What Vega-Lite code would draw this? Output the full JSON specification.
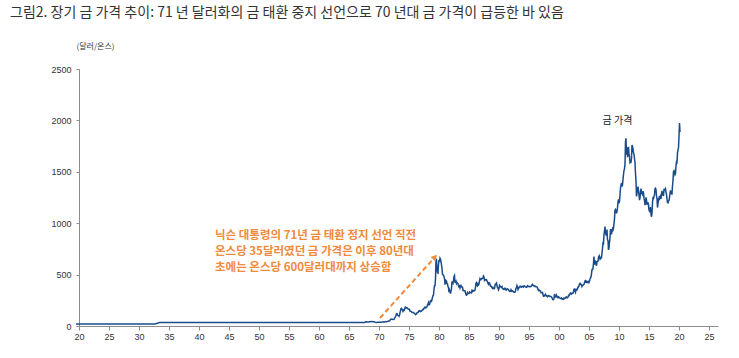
{
  "$schema": "https://vega.github.io/schema/vega-lite/v6.json",
  "autosize": {"type": "none"},
  "padding": {"left": 79, "top": 69, "right": 21, "bottom": 32},
  "width": 639,
  "height": 257,
  "background": "white",
  "title": {
    "text": "그림2. 장기 금 가격 추이: 71 년 달러화의 금 태환 중지 선언으로 70 년대 금 가격이 급등한 바 있음",
    "anchor": "start",
    "frame": "group",
    "dx": -69,
    "offset": 22,
    "font": "Noto Sans CJK KR",
    "fontSize": 14,
    "fontWeight": "normal",
    "color": "#333333"
  },
  "config": {
    "view": {"stroke": null},
    "axis": {
      "labelFont": "Liberation Sans",
      "labelFontSize": 9,
      "labelColor": "#333333",
      "domainColor": "#8c8c8c",
      "tickColor": "#8c8c8c",
      "grid": false
    }
  },
  "layer": [
    {
      "data": {
        "values": [
          {"d":"1920-01","p":20.67},{"d":"1933-03","p":20.67},{"d":"1933-09","p":29.6},{"d":"1933-12","p":34.5},{"d":"1934-02","p":35},{"d":"1967-12","p":35},
          {"d":"1968-01","p":35.2},{"d":"1968-02","p":35.2},{"d":"1968-03","p":37.5},{"d":"1968-04","p":38},{"d":"1968-05","p":41},{"d":"1968-06","p":41.1},{"d":"1968-07","p":39.5},{"d":"1968-08","p":39.5},{"d":"1968-09","p":40},{"d":"1968-10","p":39.5},{"d":"1968-11","p":39.5},{"d":"1968-12","p":41},
          {"d":"1969-01","p":42.5},{"d":"1969-02","p":42.5},{"d":"1969-03","p":43.2},{"d":"1969-04","p":43.3},{"d":"1969-05","p":43.5},{"d":"1969-06","p":41.3},{"d":"1969-07","p":42},{"d":"1969-08","p":41},{"d":"1969-09","p":40.8},{"d":"1969-10","p":40.4},{"d":"1969-11","p":37.4},{"d":"1969-12","p":35.2},
          {"d":"1970-01","p":34.9},{"d":"1970-02","p":35},{"d":"1970-03","p":35.1},{"d":"1970-04","p":35.6},{"d":"1970-05","p":35.5},{"d":"1970-06","p":35.4},{"d":"1970-07","p":35.3},{"d":"1970-08","p":35.4},{"d":"1970-09","p":36.2},{"d":"1970-10","p":37.5},{"d":"1970-11","p":37.4},{"d":"1970-12","p":37.4},
          {"d":"1971-01","p":37.9},{"d":"1971-02","p":38.7},{"d":"1971-03","p":38.9},{"d":"1971-04","p":39},{"d":"1971-05","p":40.5},{"d":"1971-06","p":40.1},{"d":"1971-07","p":41},{"d":"1971-08","p":42.7},{"d":"1971-09","p":42},{"d":"1971-10","p":42.5},{"d":"1971-11","p":42.9},{"d":"1971-12","p":43.5},
          {"d":"1972-01","p":45.8},{"d":"1972-02","p":48.3},{"d":"1972-03","p":48.3},{"d":"1972-04","p":49},{"d":"1972-05","p":54.6},{"d":"1972-06","p":62.1},{"d":"1972-07","p":65.7},{"d":"1972-08","p":67},{"d":"1972-09","p":65.5},{"d":"1972-10","p":64.9},{"d":"1972-11","p":62.9},{"d":"1972-12","p":63.9},
          {"d":"1973-01","p":65.1},{"d":"1973-02","p":74.2},{"d":"1973-03","p":84.4},{"d":"1973-04","p":90.5},{"d":"1973-05","p":102},{"d":"1973-06","p":120},{"d":"1973-07","p":120.2},{"d":"1973-08","p":106.8},{"d":"1973-09","p":103},{"d":"1973-10","p":100.1},{"d":"1973-11","p":94.8},{"d":"1973-12","p":106.7},
          {"d":"1974-01","p":129.2},{"d":"1974-02","p":150.2},{"d":"1974-03","p":168.4},{"d":"1974-04","p":172.2},{"d":"1974-05","p":163.3},{"d":"1974-06","p":154.1},{"d":"1974-07","p":143},{"d":"1974-08","p":154.6},{"d":"1974-09","p":151.8},{"d":"1974-10","p":158.8},{"d":"1974-11","p":181.7},{"d":"1974-12","p":183.9},
          {"d":"1975-01","p":176.3},{"d":"1975-02","p":179.6},{"d":"1975-03","p":178.2},{"d":"1975-04","p":170.1},{"d":"1975-05","p":167},{"d":"1975-06","p":164.2},{"d":"1975-07","p":165.2},{"d":"1975-08","p":163},{"d":"1975-09","p":144.1},{"d":"1975-10","p":142.9},{"d":"1975-11","p":142.3},{"d":"1975-12","p":139.3},
          {"d":"1976-01","p":131.2},{"d":"1976-02","p":131},{"d":"1976-03","p":132.6},{"d":"1976-04","p":128.2},{"d":"1976-05","p":126.8},{"d":"1976-06","p":125.7},{"d":"1976-07","p":117.7},{"d":"1976-08","p":109.9},{"d":"1976-09","p":114.5},{"d":"1976-10","p":117},{"d":"1976-11","p":130.3},{"d":"1976-12","p":134},
          {"d":"1977-01","p":132.3},{"d":"1977-02","p":136.3},{"d":"1977-03","p":148.3},{"d":"1977-04","p":149.2},{"d":"1977-05","p":146.8},{"d":"1977-06","p":140.8},{"d":"1977-07","p":143.4},{"d":"1977-08","p":144.8},{"d":"1977-09","p":149.5},{"d":"1977-10","p":158.9},{"d":"1977-11","p":162},{"d":"1977-12","p":160.5},
          {"d":"1978-01","p":173.2},{"d":"1978-02","p":178.2},{"d":"1978-03","p":183.7},{"d":"1978-04","p":175.4},{"d":"1978-05","p":176.3},{"d":"1978-06","p":183.1},{"d":"1978-07","p":188.3},{"d":"1978-08","p":206.2},{"d":"1978-09","p":212.8},{"d":"1978-10","p":227.8},{"d":"1978-11","p":206.2},{"d":"1978-12","p":207.8},
          {"d":"1979-01","p":227.3},{"d":"1979-02","p":245.7},{"d":"1979-03","p":242.1},{"d":"1979-04","p":239.2},{"d":"1979-05","p":257.2},{"d":"1979-06","p":279.3},{"d":"1979-07","p":295},{"d":"1979-08","p":301},{"d":"1979-09","p":355},{"d":"1979-10","p":391.7},{"d":"1979-11","p":392.5},{"d":"1979-12","p":455.1},
          {"d":"1980-01","p":655},{"d":"1980-02","p":640},{"d":"1980-03","p":553},{"d":"1980-04","p":517},{"d":"1980-05","p":514},{"d":"1980-06","p":600},{"d":"1980-07","p":644},{"d":"1980-08","p":627},{"d":"1980-09","p":660},{"d":"1980-10","p":650},{"d":"1980-11","p":623},{"d":"1980-12","p":595},
          {"d":"1981-01","p":557},{"d":"1981-02","p":500},{"d":"1981-03","p":498},{"d":"1981-04","p":495},{"d":"1981-05","p":480},{"d":"1981-06","p":461},{"d":"1981-07","p":409},{"d":"1981-08","p":411},{"d":"1981-09","p":443},{"d":"1981-10","p":437},{"d":"1981-11","p":413},{"d":"1981-12","p":410},
          {"d":"1982-01","p":384},{"d":"1982-02","p":374},{"d":"1982-03","p":330},{"d":"1982-04","p":350},{"d":"1982-05","p":334},{"d":"1982-06","p":315},{"d":"1982-07","p":339},{"d":"1982-08","p":364},{"d":"1982-09","p":436},{"d":"1982-10","p":422},{"d":"1982-11","p":415},{"d":"1982-12","p":445},
          {"d":"1983-01","p":481},{"d":"1983-02","p":491},{"d":"1983-03","p":420},{"d":"1983-04","p":432},{"d":"1983-05","p":438},{"d":"1983-06","p":413},{"d":"1983-07","p":422},{"d":"1983-08","p":416},{"d":"1983-09","p":412},{"d":"1983-10","p":394},{"d":"1983-11","p":381},{"d":"1983-12","p":388},
          {"d":"1984-01","p":370},{"d":"1984-02","p":386},{"d":"1984-03","p":394},{"d":"1984-04","p":381},{"d":"1984-05","p":377},{"d":"1984-06","p":378},{"d":"1984-07","p":347},{"d":"1984-08","p":348},{"d":"1984-09","p":341},{"d":"1984-10","p":340},{"d":"1984-11","p":341},{"d":"1984-12","p":320},
          {"d":"1985-01","p":303},{"d":"1985-02","p":299},{"d":"1985-03","p":304},{"d":"1985-04","p":325},{"d":"1985-05","p":316},{"d":"1985-06","p":317},{"d":"1985-07","p":317},{"d":"1985-08","p":330},{"d":"1985-09","p":323},{"d":"1985-10","p":326},{"d":"1985-11","p":325},{"d":"1985-12","p":322},
          {"d":"1986-01","p":345},{"d":"1986-02","p":339},{"d":"1986-03","p":346},{"d":"1986-04","p":340},{"d":"1986-05","p":342},{"d":"1986-06","p":342},{"d":"1986-07","p":348},{"d":"1986-08","p":376},{"d":"1986-09","p":418},{"d":"1986-10","p":423},{"d":"1986-11","p":397},{"d":"1986-12","p":391},
          {"d":"1987-01","p":408},{"d":"1987-02","p":401},{"d":"1987-03","p":409},{"d":"1987-04","p":438},{"d":"1987-05","p":460},{"d":"1987-06","p":450},{"d":"1987-07","p":450},{"d":"1987-08","p":461},{"d":"1987-09","p":460},{"d":"1987-10","p":465},{"d":"1987-11","p":468},{"d":"1987-12","p":486},
          {"d":"1988-01","p":477},{"d":"1988-02","p":442},{"d":"1988-03","p":444},{"d":"1988-04","p":452},{"d":"1988-05","p":451},{"d":"1988-06","p":452},{"d":"1988-07","p":437},{"d":"1988-08","p":432},{"d":"1988-09","p":413},{"d":"1988-10","p":406},{"d":"1988-11","p":420},{"d":"1988-12","p":419},
          {"d":"1989-01","p":404},{"d":"1989-02","p":388},{"d":"1989-03","p":390},{"d":"1989-04","p":384},{"d":"1989-05","p":371},{"d":"1989-06","p":367},{"d":"1989-07","p":375},{"d":"1989-08","p":365},{"d":"1989-09","p":362},{"d":"1989-10","p":366},{"d":"1989-11","p":394},{"d":"1989-12","p":409},
          {"d":"1990-01","p":410},{"d":"1990-02","p":417},{"d":"1990-03","p":393},{"d":"1990-04","p":374},{"d":"1990-05","p":369},{"d":"1990-06","p":352},{"d":"1990-07","p":362},{"d":"1990-08","p":395},{"d":"1990-09","p":389},{"d":"1990-10","p":381},{"d":"1990-11","p":381},{"d":"1990-12","p":378},
          {"d":"1991-01","p":384},{"d":"1991-02","p":364},{"d":"1991-03","p":363},{"d":"1991-04","p":358},{"d":"1991-05","p":357},{"d":"1991-06","p":366},{"d":"1991-07","p":368},{"d":"1991-08","p":356},{"d":"1991-09","p":349},{"d":"1991-10","p":359},{"d":"1991-11","p":360},{"d":"1991-12","p":361},
          {"d":"1992-01","p":354},{"d":"1992-02","p":354},{"d":"1992-03","p":345},{"d":"1992-04","p":338},{"d":"1992-05","p":337},{"d":"1992-06","p":341},{"d":"1992-07","p":353},{"d":"1992-08","p":340},{"d":"1992-09","p":345},{"d":"1992-10","p":344},{"d":"1992-11","p":335},{"d":"1992-12","p":334},
          {"d":"1993-01","p":329},{"d":"1993-02","p":329},{"d":"1993-03","p":330},{"d":"1993-04","p":342},{"d":"1993-05","p":367},{"d":"1993-06","p":371},{"d":"1993-07","p":392},{"d":"1993-08","p":379},{"d":"1993-09","p":355},{"d":"1993-10","p":364},{"d":"1993-11","p":374},{"d":"1993-12","p":383},
          {"d":"1994-01","p":387},{"d":"1994-02","p":382},{"d":"1994-03","p":384},{"d":"1994-04","p":378},{"d":"1994-05","p":381},{"d":"1994-06","p":386},{"d":"1994-07","p":385},{"d":"1994-08","p":380},{"d":"1994-09","p":391},{"d":"1994-10","p":390},{"d":"1994-11","p":384},{"d":"1994-12","p":380},
          {"d":"1995-01","p":379},{"d":"1995-02","p":376},{"d":"1995-03","p":382},{"d":"1995-04","p":391},{"d":"1995-05","p":385},{"d":"1995-06","p":387},{"d":"1995-07","p":386},{"d":"1995-08","p":383},{"d":"1995-09","p":383},{"d":"1995-10","p":383},{"d":"1995-11","p":386},{"d":"1995-12","p":387},
          {"d":"1996-01","p":400},{"d":"1996-02","p":405},{"d":"1996-03","p":396},{"d":"1996-04","p":393},{"d":"1996-05","p":392},{"d":"1996-06","p":385},{"d":"1996-07","p":383},{"d":"1996-08","p":387},{"d":"1996-09","p":383},{"d":"1996-10","p":381},{"d":"1996-11","p":378},{"d":"1996-12","p":369},
          {"d":"1997-01","p":355},{"d":"1997-02","p":346},{"d":"1997-03","p":352},{"d":"1997-04","p":344},{"d":"1997-05","p":344},{"d":"1997-06","p":341},{"d":"1997-07","p":324},{"d":"1997-08","p":324},{"d":"1997-09","p":323},{"d":"1997-10","p":325},{"d":"1997-11","p":306},{"d":"1997-12","p":289},
          {"d":"1998-01","p":289},{"d":"1998-02","p":297},{"d":"1998-03","p":296},{"d":"1998-04","p":308},{"d":"1998-05","p":299},{"d":"1998-06","p":292},{"d":"1998-07","p":293},{"d":"1998-08","p":284},{"d":"1998-09","p":289},{"d":"1998-10","p":296},{"d":"1998-11","p":294},{"d":"1998-12","p":291},
          {"d":"1999-01","p":287},{"d":"1999-02","p":288},{"d":"1999-03","p":286},{"d":"1999-04","p":282},{"d":"1999-05","p":277},{"d":"1999-06","p":261},{"d":"1999-07","p":256},{"d":"1999-08","p":257},{"d":"1999-09","p":265},{"d":"1999-10","p":311},{"d":"1999-11","p":293},{"d":"1999-12","p":283},
          {"d":"2000-01","p":284},{"d":"2000-02","p":300},{"d":"2000-03","p":286},{"d":"2000-04","p":280},{"d":"2000-05","p":275},{"d":"2000-06","p":285},{"d":"2000-07","p":282},{"d":"2000-08","p":274},{"d":"2000-09","p":273},{"d":"2000-10","p":270},{"d":"2000-11","p":266},{"d":"2000-12","p":272},
          {"d":"2001-01","p":266},{"d":"2001-02","p":262},{"d":"2001-03","p":263},{"d":"2001-04","p":261},{"d":"2001-05","p":272},{"d":"2001-06","p":270},{"d":"2001-07","p":268},{"d":"2001-08","p":273},{"d":"2001-09","p":283},{"d":"2001-10","p":283},{"d":"2001-11","p":276},{"d":"2001-12","p":276},
          {"d":"2002-01","p":282},{"d":"2002-02","p":296},{"d":"2002-03","p":294},{"d":"2002-04","p":302},{"d":"2002-05","p":314},{"d":"2002-06","p":321},{"d":"2002-07","p":313},{"d":"2002-08","p":310},{"d":"2002-09","p":319},{"d":"2002-10","p":317},{"d":"2002-11","p":319},{"d":"2002-12","p":333},
          {"d":"2003-01","p":357},{"d":"2003-02","p":359},{"d":"2003-03","p":340},{"d":"2003-04","p":328},{"d":"2003-05","p":355},{"d":"2003-06","p":356},{"d":"2003-07","p":351},{"d":"2003-08","p":360},{"d":"2003-09","p":379},{"d":"2003-10","p":379},{"d":"2003-11","p":390},{"d":"2003-12","p":407},
          {"d":"2004-01","p":414},{"d":"2004-02","p":405},{"d":"2004-03","p":406},{"d":"2004-04","p":404},{"d":"2004-05","p":384},{"d":"2004-06","p":392},{"d":"2004-07","p":398},{"d":"2004-08","p":400},{"d":"2004-09","p":406},{"d":"2004-10","p":420},{"d":"2004-11","p":439},{"d":"2004-12","p":442},
          {"d":"2005-01","p":424},{"d":"2005-02","p":423},{"d":"2005-03","p":434},{"d":"2005-04","p":429},{"d":"2005-05","p":422},{"d":"2005-06","p":431},{"d":"2005-07","p":424},{"d":"2005-08","p":438},{"d":"2005-09","p":456},{"d":"2005-10","p":470},{"d":"2005-11","p":476},{"d":"2005-12","p":510},
          {"d":"2006-01","p":549},{"d":"2006-02","p":555},{"d":"2006-03","p":557},{"d":"2006-04","p":610},{"d":"2006-05","p":676},{"d":"2006-06","p":596},{"d":"2006-07","p":633},{"d":"2006-08","p":632},{"d":"2006-09","p":598},{"d":"2006-10","p":586},{"d":"2006-11","p":627},{"d":"2006-12","p":629},
          {"d":"2007-01","p":631},{"d":"2007-02","p":665},{"d":"2007-03","p":655},{"d":"2007-04","p":679},{"d":"2007-05","p":667},{"d":"2007-06","p":655},{"d":"2007-07","p":665},{"d":"2007-08","p":665},{"d":"2007-09","p":712},{"d":"2007-10","p":754},{"d":"2007-11","p":806},{"d":"2007-12","p":803},
          {"d":"2008-01","p":889},{"d":"2008-02","p":922},{"d":"2008-03","p":968},{"d":"2008-04","p":909},{"d":"2008-05","p":888},{"d":"2008-06","p":890},{"d":"2008-07","p":939},{"d":"2008-08","p":839},{"d":"2008-09","p":829},{"d":"2008-10","p":740},{"d":"2008-11","p":760},{"d":"2008-12","p":816},
          {"d":"2009-01","p":858},{"d":"2009-02","p":943},{"d":"2009-03","p":924},{"d":"2009-04","p":890},{"d":"2009-05","p":928},{"d":"2009-06","p":946},{"d":"2009-07","p":934},{"d":"2009-08","p":949},{"d":"2009-09","p":996},{"d":"2009-10","p":1043},{"d":"2009-11","p":1127},{"d":"2009-12","p":1134},
          {"d":"2010-01","p":1117},{"d":"2010-02","p":1095},{"d":"2010-03","p":1113},{"d":"2010-04","p":1148},{"d":"2010-05","p":1205},{"d":"2010-06","p":1232},{"d":"2010-07","p":1193},{"d":"2010-08","p":1215},{"d":"2010-09","p":1271},{"d":"2010-10","p":1342},{"d":"2010-11","p":1370},{"d":"2010-12","p":1391},
          {"d":"2011-01","p":1356},{"d":"2011-02","p":1372},{"d":"2011-03","p":1424},{"d":"2011-04","p":1473},{"d":"2011-05","p":1510},{"d":"2011-06","p":1529},{"d":"2011-07","p":1572},{"d":"2011-08","p":1790},{"d":"2011-09","p":1826},{"d":"2011-10","p":1666},{"d":"2011-11","p":1739},{"d":"2011-12","p":1652},
          {"d":"2012-01","p":1656},{"d":"2012-02","p":1743},{"d":"2012-03","p":1675},{"d":"2012-04","p":1649},{"d":"2012-05","p":1591},{"d":"2012-06","p":1598},{"d":"2012-07","p":1594},{"d":"2012-08","p":1630},{"d":"2012-09","p":1760},{"d":"2012-10","p":1747},{"d":"2012-11","p":1722},{"d":"2012-12","p":1684},
          {"d":"2013-01","p":1671},{"d":"2013-02","p":1627},{"d":"2013-03","p":1593},{"d":"2013-04","p":1487},{"d":"2013-05","p":1414},{"d":"2013-06","p":1260},{"d":"2013-07","p":1286},{"d":"2013-08","p":1347},{"d":"2013-09","p":1349},{"d":"2013-10","p":1316},{"d":"2013-11","p":1275},{"d":"2013-12","p":1225},
          {"d":"2014-01","p":1244},{"d":"2014-02","p":1300},{"d":"2014-03","p":1336},{"d":"2014-04","p":1299},{"d":"2014-05","p":1287},{"d":"2014-06","p":1279},{"d":"2014-07","p":1311},{"d":"2014-08","p":1296},{"d":"2014-09","p":1239},{"d":"2014-10","p":1222},{"d":"2014-11","p":1176},{"d":"2014-12","p":1202},
          {"d":"2015-01","p":1251},{"d":"2015-02","p":1227},{"d":"2015-03","p":1179},{"d":"2015-04","p":1199},{"d":"2015-05","p":1199},{"d":"2015-06","p":1181},{"d":"2015-07","p":1131},{"d":"2015-08","p":1117},{"d":"2015-09","p":1125},{"d":"2015-10","p":1157},{"d":"2015-11","p":1086},{"d":"2015-12","p":1063},
          {"d":"2016-01","p":1097},{"d":"2016-02","p":1200},{"d":"2016-03","p":1246},{"d":"2016-04","p":1242},{"d":"2016-05","p":1260},{"d":"2016-06","p":1276},{"d":"2016-07","p":1337},{"d":"2016-08","p":1341},{"d":"2016-09","p":1326},{"d":"2016-10","p":1267},{"d":"2016-11","p":1238},{"d":"2016-12","p":1152},
          {"d":"2017-01","p":1192},{"d":"2017-02","p":1234},{"d":"2017-03","p":1231},{"d":"2017-04","p":1266},{"d":"2017-05","p":1246},{"d":"2017-06","p":1260},{"d":"2017-07","p":1236},{"d":"2017-08","p":1283},{"d":"2017-09","p":1315},{"d":"2017-10","p":1280},{"d":"2017-11","p":1283},{"d":"2017-12","p":1265},
          {"d":"2018-01","p":1331},{"d":"2018-02","p":1331},{"d":"2018-03","p":1325},{"d":"2018-04","p":1335},{"d":"2018-05","p":1303},{"d":"2018-06","p":1282},{"d":"2018-07","p":1238},{"d":"2018-08","p":1201},{"d":"2018-09","p":1198},{"d":"2018-10","p":1215},{"d":"2018-11","p":1221},{"d":"2018-12","p":1250},
          {"d":"2019-01","p":1291},{"d":"2019-02","p":1320},{"d":"2019-03","p":1300},{"d":"2019-04","p":1285},{"d":"2019-05","p":1284},{"d":"2019-06","p":1359},{"d":"2019-07","p":1413},{"d":"2019-08","p":1500},{"d":"2019-09","p":1510},{"d":"2019-10","p":1495},{"d":"2019-11","p":1471},{"d":"2019-12","p":1480},
          {"d":"2020-01","p":1560},{"d":"2020-02","p":1597},{"d":"2020-03","p":1592},{"d":"2020-04","p":1681},{"d":"2020-05","p":1716},{"d":"2020-06","p":1732},{"d":"2020-07","p":1841},{"d":"2020-08","p":1975},{"d":"2020-09","p":1887}
        ]
      },
      "mark": {"type": "line", "color": "#1a4c8c", "strokeWidth": 1.5},
      "encoding": {
        "x": {
          "field": "d",
          "type": "temporal",
          "scale": {
            "type": "utc",
            "domain": [-1562198400000, 1798761600000]
          },
          "axis": {
            "title": null,
            "values": [-1562198400000, -1404432000000, -1246665600000, -1088899200000, -931046400000, -773280000000, -615513600000, -457747200000, -299894400000, -142128000000, 15638400000, 173404800000, 331257600000, 489024000000, 646790400000, 804556800000, 962409600000, 1120176000000, 1277942400000, 1435708800000, 1593561600000, 1751328000000],
            "tickCount": 40,
            "labelExpr": "utcFormat(datum.value, '%y')",
            "tickSize": 4,
            "labelPadding": 2,
            "labelFlush": false,
            "labelOverlap": false,
            "labelSeparation": 0
          }
        },
        "y": {
          "field": "p",
          "type": "quantitative",
          "scale": {"domain": [0, 2500], "nice": false},
          "axis": {
            "values": [0, 500, 1000, 1500, 2000, 2500],
            "format": "d",
            "tickSize": 3,
            "labelPadding": 5,
            "title": "(달러/온스)",
            "titleAngle": 0,
            "titleAlign": "center",
            "titleBaseline": "middle",
            "titleX": 16,
            "titleY": -23,
            "titleFont": "Noto Sans CJK KR",
            "titleFontSize": 8,
            "titleFontWeight": "normal",
            "titleColor": "#333333"
          }
        }
      }
    },
    {
      "data": {"values": [{"d0": "1970-09-01", "p0": 78, "d1": "1979-11-01", "p1": 671}]},
      "mark": {"type": "rule", "color": "#f08a3c", "strokeWidth": 2, "strokeDash": [5, 3]},
      "encoding": {
        "x": {"field": "d0", "type": "temporal"},
        "y": {"field": "p0", "type": "quantitative"},
        "x2": {"field": "d1"},
        "y2": {"field": "p1"}
      }
    },
    {
      "data": {"values": [{"d1": "1979-11-01", "p1": 671}]},
      "mark": {"type": "point", "shape": "triangle-up", "filled": true, "color": "#f08a3c", "size": 45, "angle": 42, "opacity": 1},
      "encoding": {
        "x": {"field": "d1", "type": "temporal"},
        "y": {"field": "p1", "type": "quantitative"}
      }
    },
    {
      "data": {"values": [{"d": "1943-03-01", "p": 935, "label": "닉슨 대통령의 71년 금 태환 정지 선언 직전\n온스당 35달러였던 금 가격은 이후 80년대\n초에는 온스당 600달러대까지 상승함"}]},
      "mark": {"type": "text", "align": "left", "baseline": "top", "lineBreak": "\n", "lineHeight": 16, "font": "Noto Sans CJK KR", "fontSize": 11.5, "fontWeight": "bold", "color": "#f08a3c"},
      "encoding": {
        "x": {"field": "d", "type": "temporal"},
        "y": {"field": "p", "type": "quantitative"},
        "text": {"field": "label"}
      }
    },
    {
      "data": {"values": [{"d": "2010-04-01", "p": 1994, "label": "금 가격"}]},
      "mark": {"type": "text", "align": "center", "baseline": "middle", "font": "Noto Sans CJK KR", "fontSize": 10, "color": "#222222"},
      "encoding": {
        "x": {"field": "d", "type": "temporal"},
        "y": {"field": "p", "type": "quantitative"},
        "text": {"field": "label"}
      }
    }
  ]
}
